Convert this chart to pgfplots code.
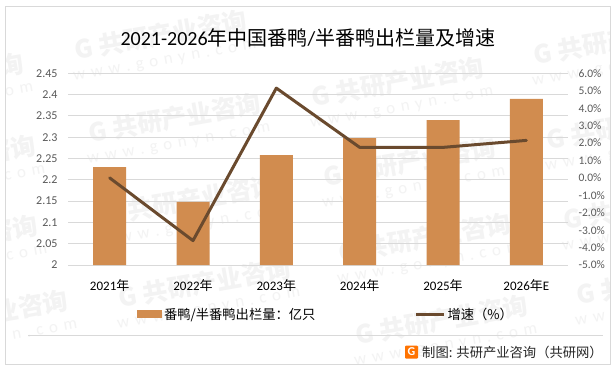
\documentclass[border=0pt]{standalone}
\usepackage{fontspec}
\usepackage{pgfplots}
\pgfplotsset{compat=1.18}
\setmainfont{Carlito}
\newfontfamily\cjk{Noto Sans CJK SC}
\definecolor{barc}{HTML}{D18C4F}
\definecolor{linec}{HTML}{6A4A2E}
\definecolor{gridc}{HTML}{D9D9D9}
\definecolor{tickc}{HTML}{595959}
\definecolor{wmc}{HTML}{F3F3F3}
\newcommand{\wmark}[2]{%
  \node[rotate=10,text=wmc,font=\cjk\bfseries\fontsize{25}{25}\selectfont,inner sep=0pt] at ({(#1)*1pt},{(-#2)*1pt}) {G 共研产业咨询};
  \node[rotate=10,text=wmc,font=\fontsize{17}{17}\selectfont,inner sep=0pt] at ({(#1+4)*1pt},{(-#2-27)*1pt}) {w\,\,w\,\,w\,\,.\,\,g\,\,o\,\,n\,\,y\,\,n\,\,.\,\,c\,\,o\,\,m};
}
\begin{document}
\begin{tikzpicture}
\useasboundingbox (0pt,0pt) rectangle (615pt,-373pt);
\fill[white] (0pt,0pt) rectangle (615pt,-373pt);
\begin{scope}
\clip (5pt,-6pt) rectangle (610pt,-364pt);
\wmark{161}{35}\wmark{175}{118}\wmark{190}{200}\wmark{205}{283}
\wmark{398}{82}\wmark{410}{162}\wmark{425}{238}\wmark{442}{320}
\wmark{620}{40}\wmark{633}{125}\wmark{650}{205}\wmark{663}{280}
\wmark{-62}{78}\wmark{-50}{160}\wmark{-48}{240}\wmark{-18}{315}
\end{scope}
\draw[gridc,line width=1pt] (5.5pt,-6.5pt) rectangle (610pt,-364pt);
\begin{axis}[
  at={(68pt,-265pt)},anchor=south west,
  scale only axis,width=500pt,height=191.7pt,
  xmin=-0.5,xmax=5.5,ymin=2,ymax=2.45,
  ytick={2,2.05,2.1,2.15,2.2,2.25,2.3,2.35,2.4,2.45},
  yticklabels={2,2.05,2.1,2.15,2.2,2.25,2.3,2.35,2.4,2.45},
  xtick={0,1,2,3,4,5},
  xticklabels={2021{\cjk 年},2022{\cjk 年},2023{\cjk 年},2024{\cjk 年},2025{\cjk 年},2026{\cjk 年}E},
  axis x line*=bottom,axis y line*=left,
  y axis line style={draw=none},
  x axis line style={draw=gridc,line width=1pt,-},
  major tick length=0pt,
  ymajorgrids,grid style={gridc,line width=1pt},
  yticklabel style={text=tickc,font=\fontsize{12}{12}\selectfont},
  xticklabel style={text=black,font=\fontsize{13}{13}\selectfont,yshift=-11pt},
  yticklabel shift=7pt,
  legend style={at={(0.138,-0.258)},anchor=west,draw=none,fill=none,
    font=\cjk\fontsize{13.3}{13.3}\selectfont,legend columns=2,
    /tikz/every even column/.append style={column sep=97pt},inner sep=0pt,outer sep=0pt},
  legend cell align=left,
]
\addplot[ybar,bar width=33pt,fill=barc,draw=none,
  legend image code/.code={\fill[barc] (0pt,-4pt) rectangle (25pt,4pt);}]
  coordinates {(0,2.23) (1,2.148) (2,2.258) (3,2.298) (4,2.34) (5,2.39)};
\addlegendentry{番鸭/半番鸭出栏量：亿只}
\addlegendimage{legend image code/.code={\draw[linec,line width=3pt] (0pt,0pt) -- (28pt,0pt);}}
\addlegendentry{增速（\%）}
\end{axis}
\begin{axis}[
  at={(68pt,-265pt)},anchor=south west,
  scale only axis,width=500pt,height=191.7pt,
  xmin=-0.5,xmax=5.5,ymin=-5,ymax=6,
  axis x line=none,axis y line*=right,
  y axis line style={draw=none},
  major tick length=0pt,
  ytick={-5,-4,-3,-2,-1,0,1,2,3,4,5,6},
  yticklabels={-5.0\%,-4.0\%,-3.0\%,-2.0\%,-1.0\%,0.0\%,1.0\%,2.0\%,3.0\%,4.0\%,5.0\%,6.0\%},
  yticklabel style={text=tickc,font=\fontsize{11.5}{11.5}\selectfont},
  yticklabel shift=7pt,
]
\addplot[linec,line width=3pt,line join=round,line cap=round]
  coordinates {(0,0) (1,-3.6) (2,5.15) (3,1.75) (4,1.75) (5,2.15)};
\end{axis}
\node[font=\fontsize{20}{20}\selectfont,anchor=center,inner sep=0pt] at (308pt,-38pt) {2021-2026{\cjk 年中国番鸭}/{\cjk 半番鸭出栏量及增速}};
\draw[gridc,line width=1pt] (28pt,-335pt) -- (603pt,-335pt);
\fill[orange!90!red,rounded corners=1pt] (405pt,-345.5pt) rectangle (418pt,-358.5pt);
\node[text=white,font=\bfseries\fontsize{12}{12}\selectfont,inner sep=0pt] at (411.5pt,-352pt) {G};
\node[anchor=east,font=\cjk\fontsize{13.3}{13.3}\selectfont,text=black!85,inner sep=0pt] at (603pt,-352pt) {制图: 共研产业咨询（共研网）};
\end{tikzpicture}
\end{document}
